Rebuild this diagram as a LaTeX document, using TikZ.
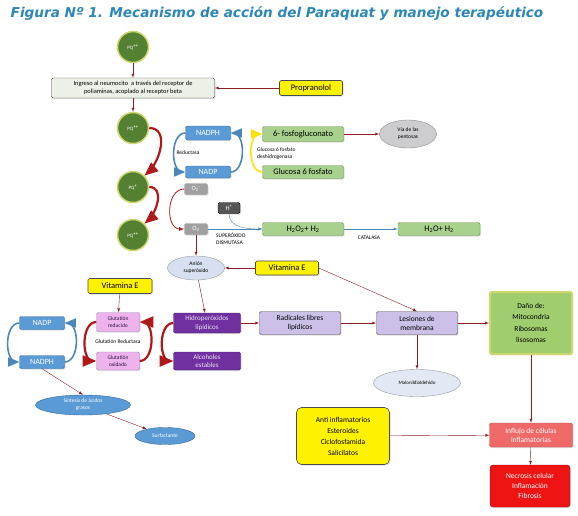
\documentclass[tikz,border=0pt]{standalone}
\usepackage{fontspec}
\setmainfont{Carlito}
\newfontfamily\titlefont{DejaVu Sans}
\usepackage{tikz}
\usetikzlibrary{arrows,shapes,shadows}
\usetikzlibrary{shapes.geometric}

\definecolor{linered}{RGB}{140,30,35}
\definecolor{arcred}{RGB}{175,25,25}
\definecolor{arcblue}{RGB}{75,135,185}
\definecolor{titleblue}{RGB}{43,135,184}
\definecolor{pqgreen}{RGB}{84,128,50}
\definecolor{pqglow}{RGB}{205,215,110}
\definecolor{nblue}{RGB}{91,155,213}
\definecolor{nblueedge}{RGB}{55,105,160}
\definecolor{lgreen}{RGB}{169,209,142}
\definecolor{lgreenedge}{RGB}{105,145,75}
\definecolor{ingresofill}{RGB}{236,241,232}
\definecolor{ogray}{RGB}{160,160,160}
\definecolor{hgray}{RGB}{85,85,85}
\definecolor{pentgray}{RGB}{205,205,208}
\definecolor{anionfill}{RGB}{214,224,240}
\definecolor{hpurple}{RGB}{112,48,160}
\definecolor{lilac}{RGB}{205,192,232}
\definecolor{gpink}{RGB}{238,178,236}
\definecolor{influjo}{RGB}{240,105,105}
\definecolor{necrosis}{RGB}{238,20,20}
\definecolor{damage}{RGB}{160,205,110}

\tikzstyle{conn}=[draw, color=linered, thin, -latex]
\tikzstyle{bconn}=[draw, color=arcblue, thin, -latex]
\tikzstyle{redarc}=[draw, color=arcred, line width=2.2pt, -triangle 45]
\tikzstyle{bluearc}=[draw, color=arcblue, line width=1.6pt, -triangle 45]
\tikzstyle{pq}=[circle, fill=pqgreen, draw=pqglow, line width=1.5pt
,minimum size=31pt
,inner sep=0pt, text=white, font=\fontsize{5}{6}\selectfont
]
\tikzstyle{box}=[rectangle, rounded corners=1.5pt, inner sep=1pt, align=center
,drop shadow={opacity=0.25, shadow xshift=1pt, shadow yshift=-1.2pt}
]
\tikzstyle{bluebox}=[box, fill=nblue, draw=nblueedge, text=white, font=\fontsize{8}{9}\selectfont]
\tikzstyle{greenbox}=[box, fill=lgreen, draw=lgreenedge, font=\fontsize{8.5}{10}\selectfont]
\tikzstyle{yellowbox}=[box, fill=yellow, draw=black!70, line width=0.6pt, font=\fontsize{8.5}{10}\selectfont]
\tikzstyle{graybox}=[box, fill=ogray, draw=black!40, text=white, minimum width=23pt, minimum height=11pt, font=\fontsize{6.5}{7}\selectfont]
\tikzstyle{purplebox}=[box, fill=hpurple, draw=hpurple!70!black, text=white!85!hpurple, minimum width=67pt, font=\fontsize{7}{8.5}\selectfont]
\tikzstyle{lilacbox}=[box, fill=lilac, draw=black!70, minimum width=81pt, minimum height=23pt, font=\fontsize{7.5}{9}\selectfont]
\tikzstyle{pinkbox}=[box, fill=gpink, draw=hpurple!60, text=hpurple!40!black, minimum width=43pt, minimum height=18pt, font=\fontsize{5.5}{7}\selectfont]
\tikzstyle{oval}=[ellipse, inner sep=0pt, align=center, font=\fontsize{5.5}{7}\selectfont]
\tikzstyle{note}=[inner sep=0pt, align=left, font=\fontsize{5.5}{7}\selectfont]

\begin{document}
\begin{tikzpicture}[x=1pt,y=-1pt]
    \useasboundingbox[fill=white] (0,0) rectangle (578,515);
    % Title
    \node[font=\titlefont\bfseries\itshape\fontsize{13.6}{15}\selectfont, text=titleblue] (title) at (277,14) {Figura Nº 1. Mecanismo de acción del Paraquat y manejo terapéutico};

    % Paraquat cycle
    \foreach \pos/\name/\lab in {{(133,47)/pqa/++}, {(133,128)/pqb/++}, {(133,187)/pqc/+}, {(133,235)/pqd/++}}
        \node[pq] (\name) at \pos {PQ\textsuperscript{\lab}};
    \node[box, fill=ingresofill, draw=black!75, minimum width=163pt, minimum height=20pt, font=\fontsize{6.4}{8}\selectfont] (ingreso) at (133,88) {Ingreso al neumocito\ \ a través del receptor de\\poliaminas, acoplado al receptor beta};
    \node[yellowbox, minimum width=63pt, minimum height=15pt] (propranolol) at (311,88) {Propranolol};

    \node[bluebox, minimum width=45pt, minimum height=14pt] (nadph) at (208,133) {NADPH};
    \node[bluebox, minimum width=45pt, minimum height=12pt] (nadp) at (208,172) {NADP};
    \node[note] (reductasa) at (188,153) {Reductasa};
    \node[greenbox, minimum width=81pt, minimum height=15pt] (fosfog) at (303,134) {6- fosfogluconato};
    \node[greenbox, minimum width=81pt, minimum height=13pt] (glucosa) at (303,172) {Glucosa 6 fosfato};
    \node[note, anchor=west] (gpd) at (257,154) {Glucosa 6 fosfato\\deshidrogenasa};
    \node[oval, fill=pentgray, draw=black!45, minimum width=57pt, minimum height=28pt] (pentosas) at (408,134) {Vía de las\\pentosas};

    % Oxygen species
    \node[graybox] (otwom) at (196,189) {O\textsubscript{2}\textsuperscript{-}};
    \node[graybox] (otwo) at (196,229) {O\textsubscript{2}};
    \node[graybox, fill=hgray, draw=black, minimum width=22pt] (hplus) at (229,208) {H\textsuperscript{+}};
    \node[greenbox, minimum width=81pt, minimum height=13pt] (hdos) at (303,229) {H\textsubscript{2}O\textsubscript{2}+ H\textsubscript{2}};
    \node[greenbox, minimum width=82pt, minimum height=13pt] (hagua) at (439,229) {H\textsubscript{2}O+ H\textsubscript{2}};
    \node[note, anchor=north west] (sod) at (216,233) {SUPERÓXIDO\\DISMUTASA};
    \node[note] (catalasa) at (369,238) {CATALASA};

    % Lipid peroxidation
    \node[oval, fill=anionfill, draw=black!40, minimum width=57pt, minimum height=24pt] (anion) at (196,268) {Anión\\superóxido};
    \node[yellowbox, minimum width=63pt, minimum height=14pt] (vitea) at (287,268) {Vitamina E};
    \node[purplebox, minimum height=20pt] (hidro) at (207,323) {Hidroperóxidos\\lipídicos};
    \node[purplebox, minimum height=18pt] (alcoholes) at (207,361) {Alcoholes\\estables};
    \node[lilacbox] (radicales) at (300,323) {Radicales libres\\lipídicos};
    \node[lilacbox] (lesiones) at (417,323) {Lesiones de\\membrana};
    \node[box, fill=damage, draw=pqglow, line width=2pt, minimum width=82pt, minimum height=62pt, font=\fontsize{7.5}{11.5}\selectfont] (dano) at (531,323) {Daño de:\\Mitocondria\\Ribosomas\\lisosomas};
    \node[oval, fill=anionfill!70, draw=black!40, minimum width=87pt, minimum height=27pt, font=\fontsize{5}{6}\selectfont] (malon) at (417,383) {Malonildialdehido};

    % Glutathione cycle
    \node[yellowbox, minimum width=64pt, minimum height=15pt] (viteb) at (120,286) {Vitamina E};
    \node[pinkbox, minimum height=19pt] (gsh) at (118,322) {Glutatión\\reducido};
    \node[pinkbox] (gssg) at (118,361) {Glutatión\\oxidado};
    \node[note] (greductasa) at (118,342) {Glutatión Reductasa};
    \node[bluebox, minimum width=45pt, minimum height=13pt] (nadpl) at (42,323) {NADP};
    \node[bluebox, minimum width=45pt, minimum height=13pt] (nadphl) at (42,362) {NADPH};
    \node[oval, fill=nblue, draw=nblueedge, text=white, minimum width=95pt, minimum height=20pt] (sintesis) at (83,405) {Síntesis de ácidos\\grasos};
    \node[oval, fill=nblue, draw=nblueedge, text=white, minimum width=60pt, minimum height=17pt] (surf) at (165,436) {Surfactante};

    % Treatment and outcome
    \node[box, fill=yellow, draw=black!70, line width=0.6pt, rounded corners=5pt, minimum width=93pt, minimum height=57pt, font=\fontsize{7.5}{11}\selectfont] (anti) at (343,436) {Anti inflamatorios\\Esteroides\\Ciclofosfamida\\Salicilatos};
    \node[box, fill=influjo, draw=influjo!80!black, text=white, minimum width=83pt, minimum height=24pt, font=\fontsize{7.5}{9}\selectfont] (influjo) at (531,435) {Influjo de células\\inflamatorias};
    \node[box, fill=necrosis, draw=necrosis!60!black, text=white, rounded corners=3pt, minimum width=80pt, minimum height=42pt, font=\fontsize{7.5}{10}\selectfont] (necrosis) at (530,486) {Necrosis celular\\Inflamación\\Fibrosis};

    % Straight connectors
    \foreach \source/ \dest in {pqa/ingreso, ingreso/pqb, propranolol/ingreso, fosfog/pentosas, otwo/anion, vitea/anion, anion/hidro, hidro/radicales, radicales/lesiones, lesiones/dano, lesiones/malon, dano/influjo, influjo/necrosis, anti/influjo, viteb/gsh, sintesis/surf}
        \path[conn] (\source) -- (\dest);
    \path[conn] (vitea.east) -- (lesiones.north);
    \path[conn] (nadphl.south) -- (sintesis.north);
    \foreach \source/ \dest in {otwo/hdos, hdos/hagua}
        \path[bconn] (\source) -- (\dest);
    \path[bconn] (hplus.south) to[out=-90, in=180] (hdos.west);

    % Curved arrows
    \path[redarc] (pqb.east) to[out=0, in=40, looseness=1.1] (pqc.north east);
    \path[redarc] (pqc.east) to[out=0, in=40, looseness=1.1] (pqd.north east);
    \path[draw, color=arcred, -latex, thick] (otwom.west) to[out=180, in=180, looseness=1.2] (otwo.west);
    \path[bluearc] (nadph.west) to[out=180, in=180] (nadp.west);
    \path[bluearc] (nadp.east) to[out=0, in=0] (nadph.east);
    \path[draw, color=yellow!85!orange, line width=1.6pt, -triangle 45] (glucosa.west) to[out=180, in=180] (fosfog.west);
    \path[redarc] (gsh.west) to[out=180, in=180] (gssg.west);
    \path[redarc] (gssg.east) to[out=0, in=0] (gsh.east);
    \path[redarc] (hidro.west) to[out=180, in=180] (alcoholes.west);
    \path[bluearc] (nadpl.west) to[out=180, in=180] (nadphl.west);
    \path[bluearc] (nadphl.east) to[out=0, in=0] (nadpl.east);
\end{tikzpicture}
\end{document}
